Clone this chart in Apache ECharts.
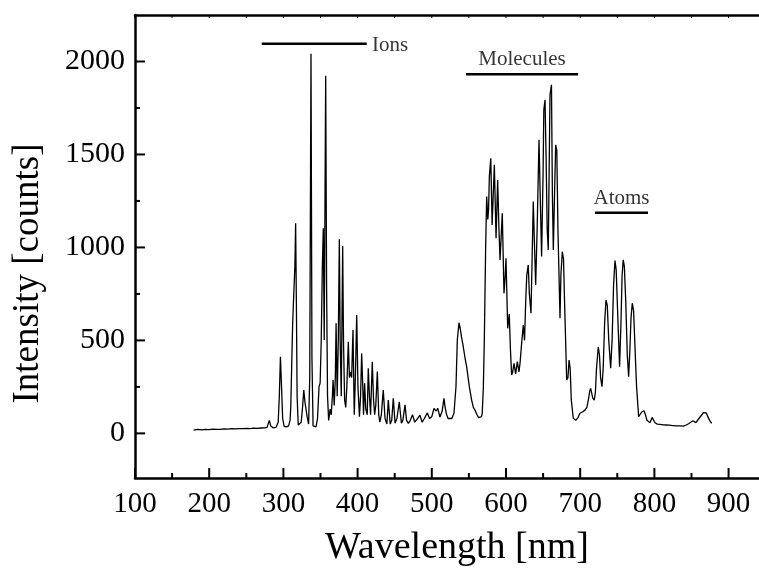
<!DOCTYPE html>
<html><head><meta charset="utf-8">
<script src="https://cdn.jsdelivr.net/npm/echarts@6/dist/echarts.min.js"></script>
<style>html,body{margin:0;padding:0;background:#fff}#c{width:759px;height:571px}</style>
</head><body><div id="c"></div>
<script>
// Wavelength (nm) and intensity (counts)
const wavelength = [179,185,190,195,200,205,210,215,220,225,230,235,240,245,250,255,260,265,270,275,278,281,283,286,290,293,294.5,296,297.5,299,301,304,307,309,310,311.5,312.5,313.5,314.5,315.5,316.5,317.5,318.5,320,322,324,326,327.5,329,330.5,332,334,335.5,337.2,338.5,340,342,344,346,348,349.5,351,352.5,353.8,355,356,357,358.2,359.5,361,363,364.5,366,367,368.5,370,371,372.5,374,375.4,376.5,378,379.9,381,382.5,384,385.5,387.5,389,390.5,392,393.8,395.5,397,398.8,400.5,402.5,404,405.5,407,408,409.5,411,413,414.4,416,417.5,419.8,421.5,423,424.5,426.6,428.5,430,432,434.6,437,439.5,441.4,444,446,448.1,450.5,453,456.2,459,461,463.9,466,468.4,471,474,477,480,484,487,490,494,497,500,503,506,508,511,514,516.4,518,520,522,524.5,527,529.9,532.6,534.4,536.7,538.5,540,542.4,545,547,550.6,553.7,556,558.2,561,563,565,567,568,569.5,570.8,572.6,574,575.5,576.5,577.6,579.5,581.3,582.5,584.3,586.6,588.8,590.5,592,595,597.3,599,600,602.3,604.4,606,607.6,609,610.8,613,615.3,617.5,619,621,623.3,625,626.5,628,630,631.5,633.7,635,636.8,638.5,640,642,644.5,646,648,650,651,652.6,654,655.5,657,659.3,661.3,662.5,663.8,665.5,667,668.5,670,672.8,674,675.9,677.5,679,681.8,683.5,685,686.5,688,690.7,694,697,699.7,703,706.5,709,711,713,714.1,715.5,717,719,720.5,722,724.4,726,727.5,729.4,731,733,734.8,736.5,738.5,741.1,743,745,746.9,748.5,750.5,753.1,755,756.5,758,759.5,761.5,763.5,765.3,767,768.5,770.2,772,774,776,778.8,781,783,786,788,790,794,797,800.8,804,808,812,816,820,825,830,835,839,843,846,848,852,856,860,864,866,868.2,870,872,874.5,877.2];
const counts = [18,22,19,21,20,23,21,22,24,23,25,24,26,25,27,26,28,27,29,30,32,70,40,30,32,60,200,412,250,80,38,35,40,70,150,420,590,700,690,900,1130,700,200,45,40,60,150,233,170,160,90,50,300,2041,400,40,30,35,80,250,270,500,900,1103,502,1200,1923,800,200,70,130,100,200,287,150,300,592,200,500,1044,500,200,1008,500,180,140,250,493,300,330,300,556,100,300,637,250,90,200,430,250,100,270,130,100,350,200,100,385,180,100,150,332,100,60,100,233,80,50,179,50,70,188,55,80,170,55,70,153,70,54,70,100,60,75,98,60,80,110,80,90,134,120,135,88,120,188,140,100,80,72,80,108,251,502,595,560,520,466,400,358,251,179,140,125,100,85,75,90,108,250,502,1005,1274,1150,1200,1381,1480,1121,1250,1444,1049,1363,1100,933,1184,753,850,942,565,642,450,314,330,377,320,386,330,380,480,583,500,700,850,906,750,646,900,1247,1000,798,1100,1579,1300,951,1400,1740,1794,1500,1100,986,1821,1875,1300,986,1300,1552,1520,1100,619,850,977,940,700,287,300,394,350,180,81,70,85,108,115,125,140,180,230,242,235,190,179,220,350,466,420,300,251,350,600,717,690,500,350,500,800,929,880,650,359,600,850,933,900,700,420,305,450,620,700,660,450,250,90,100,115,122,100,70,57,86,57,50,48,46,45,44,42,40,40,39,45,52,62,68,58,80,100,112,116,110,90,70,54];

// Region annotations: label, bar start/end wavelength, bar height (counts), label position
const regionNames = ["Ions", "Molecules", "Atoms"];
const regionStart = [270.8, 546.1, 720.0];
const regionEnd = [412.3, 697.0, 791.4];
const regionBarY = [2095, 1931, 1187];
const regionLabelX = [419.4, 621.6, 755.7];
const regionLabelY = [2088, 2009, 1261];

// Axis ranges and tick values
const xMin = 100, xMax = 941, yMin = -240, yMax = 2250;
const xMajor = [100,200,300,400,500,600,700,800,900];
const xMinor = [150,250,350,450,550,650,750,850];
const yMajor = [0,500,1000,1500,2000];
const yMinor = [250,750,1250,1750];

const FONT = "Liberation Serif";
const chart = echarts.init(document.getElementById('c'), null, {renderer:'canvas'});

const spectrum = wavelength.map((w,i)=>[w,counts[i]]);
const series = [{
  type:'line', data:spectrum, symbol:'none', silent:true,
  lineStyle:{color:'#000', width:1.3}, animation:false
}];
regionNames.forEach((n,i)=>{
  series.push({type:'line', symbol:'none', silent:true, animation:false,
    data:[[regionStart[i],regionBarY[i]],[regionEnd[i],regionBarY[i]]], lineStyle:{color:'#000', width:2.5}});
  series.push({type:'scatter', symbolSize:0, silent:true, animation:false,
    itemStyle:{color:'#000'},
    data:[[regionLabelX[i],regionLabelY[i]]],
    label:{show:true, position:'inside', formatter:n, color:'#000', fontFamily:FONT, fontSize:21,
      textBorderWidth:0, textBorderColor:'transparent',
      align: i===0 ? 'left':'center', verticalAlign:'middle'}});
});

// Inward ticks drawn through the axis scales (custom series)
function tickSeries(values, side, len, width){
  return {
    type:'custom', silent:true, animation:false, clip:false, z:5,
    data: values.map(v => side==='left' ? [xMin, v] : [v, side==='top' ? yMax : yMin]),
    renderItem(params, api){
      const p = api.coord([api.value(0), api.value(1)]);
      let x2 = p[0], y2 = p[1];
      if (side==='left') x2 += len; else if (side==='top') y2 += len; else y2 -= len;
      return {type:'line', shape:{x1:p[0], y1:p[1], x2:x2, y2:y2},
        style:{stroke:'#000', lineWidth:width}};
    }
  };
}
series.push(tickSeries(xMajor, 'bottom', 10, 2));
series.push(tickSeries(xMinor, 'bottom', 5, 2));
series.push(tickSeries(yMajor, 'left', 10, 2));
series.push(tickSeries(yMinor, 'left', 5, 2));
series.push(tickSeries(xMajor.concat(xMinor), 'top', 3, 1));

const numFmt = v => String(Math.round(v));
chart.setOption({
  animation:false,
  grid:{left:135, right:0, top:15, bottom:93, containLabel:false, outerBoundsMode:'none'},
  xAxis:[
    {type:'value', min:xMin, max:xMax, position:'bottom',
      axisLine:{show:true, onZero:false, lineStyle:{color:'#000', width:2.5}},
      axisTick:{show:false},
      axisLabel:{show:true, customValues:xMajor, formatter:numFmt, color:'#000', fontFamily:FONT, fontSize:29, margin:12},
      splitLine:{show:false},
      name:'Wavelength [nm]', nameLocation:'middle', nameGap:51,
      nameTextStyle:{color:'#000', fontFamily:FONT, fontSize:38, padding:[0,0,0,20]}},
    {type:'value', min:xMin, max:xMax, position:'top',
      axisLine:{show:true, onZero:false, lineStyle:{color:'#000', width:2.5}},
      axisTick:{show:false}, axisLabel:{show:false}, splitLine:{show:false}}
  ],
  yAxis:[
    {type:'value', min:yMin, max:yMax, position:'left',
      axisLine:{show:true, onZero:false, lineStyle:{color:'#000', width:2.5}},
      axisTick:{show:false},
      axisLabel:{show:true, customValues:yMajor, formatter:numFmt, color:'#000', fontFamily:FONT, fontSize:30, margin:10},
      splitLine:{show:false},
      name:'Intensity [counts]', nameLocation:'middle', nameGap:88,
      nameTextStyle:{color:'#000', fontFamily:FONT, fontSize:37, padding:[0,54,0,0]}}
  ],
  series: series
});
</script></body></html>
